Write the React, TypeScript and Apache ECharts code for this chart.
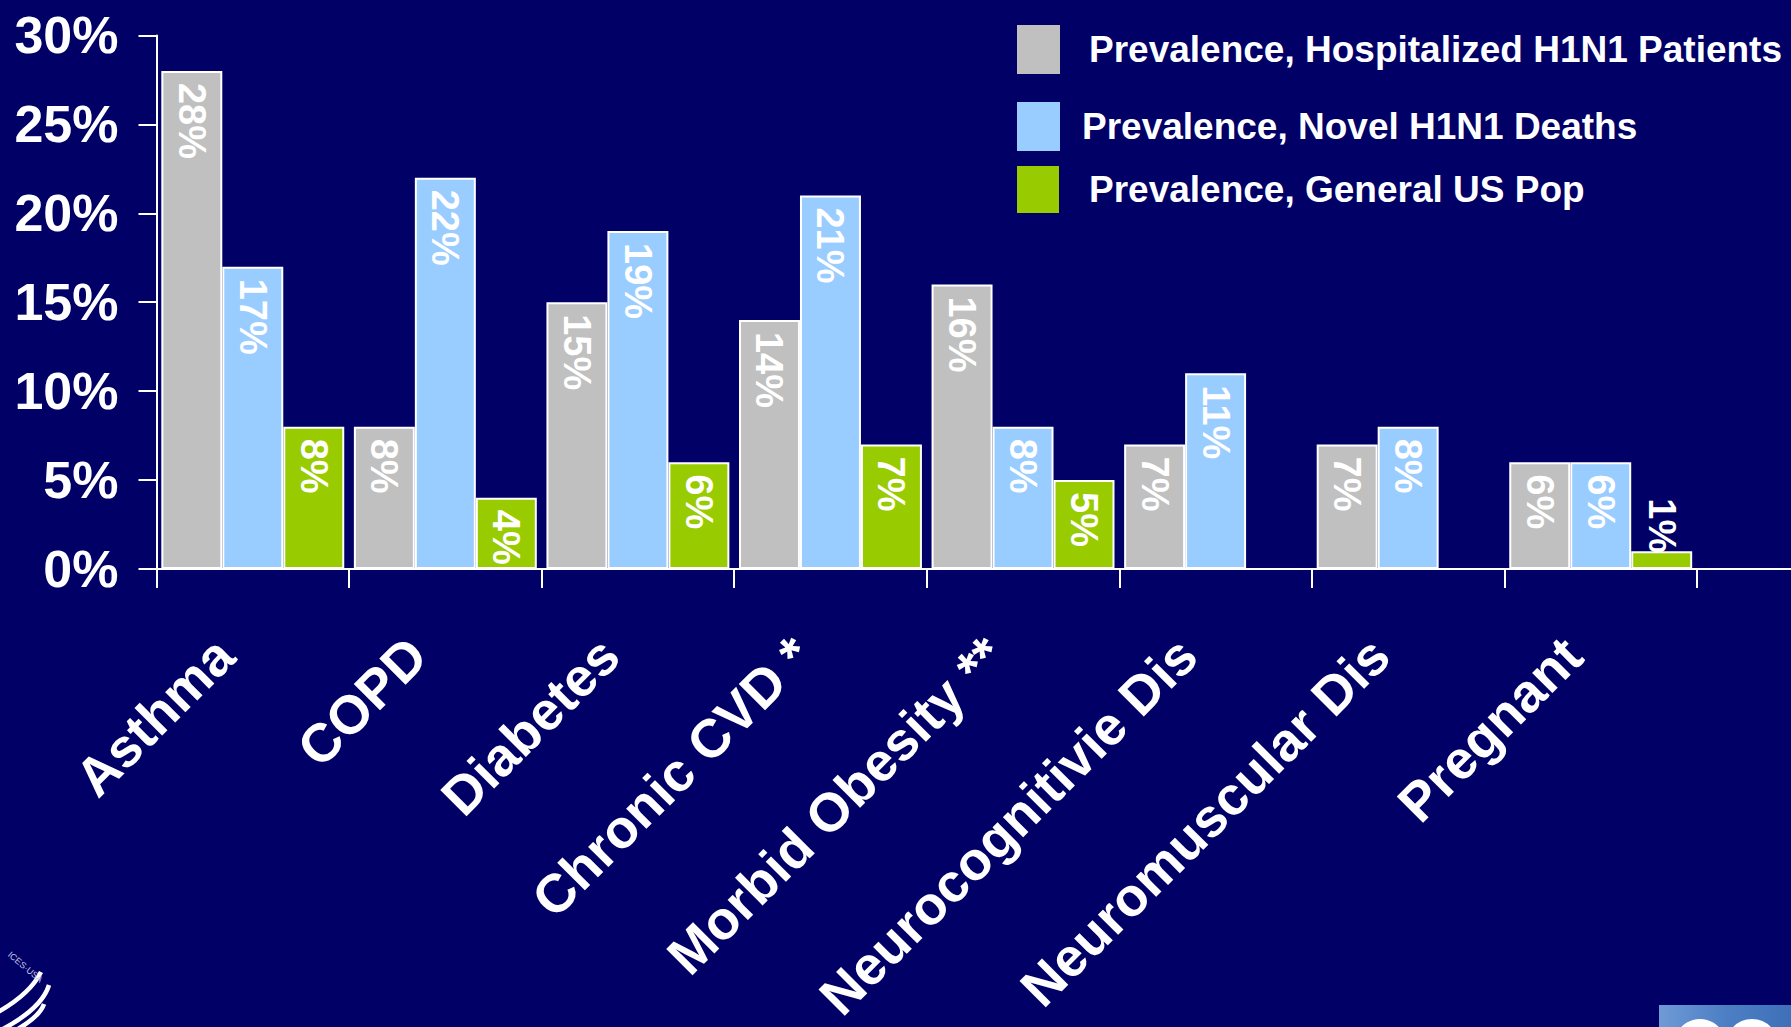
import React, { useEffect, useRef } from "react";
import * as echarts from "echarts";

// Underlying conditions among pandemic H1N1 cases vs. the general US population
const categories = [
  "Asthma",
  "COPD",
  "Diabetes",
  "Chronic CVD *",
  "Morbid Obesity **",
  "Neurocognitivie Dis",
  "Neuromuscular Dis",
  "Pregnant",
];
const seriesNames = [
  "Prevalence, Hospitalized H1N1 Patients",
  "Prevalence, Novel H1N1 Deaths",
  "Prevalence, General US Pop",
];
const hospitalized = [28, 8, 15, 14, 16, 7, 7, 6];
const deaths = [17, 22, 19, 21, 8, 11, 8, 6];
const generalPop: (number | null)[] = [8, 4, 6, 7, 5, null, null, 1];

const yMin = 0;
const yMax = 30;
const yStep = 5;

const seriesColors = ["#C0C0C0", "#99CCFF", "#99CC00"];
const BG = "#000066";
const FONT = "'Liberation Sans', Arial, Helvetica, sans-serif";

// Short bars get their value printed above the bar instead of inside it
const SHORT_BAR = 3;

function toBarData(values: (number | null)[]) {
  return values.map((v) => {
    if (v == null) return null;
    if (v < SHORT_BAR) {
      return {
        value: v,
        label: { position: "top", align: "right", distance: -2 },
      };
    }
    return v;
  });
}

function makeSeries(name: string, values: (number | null)[], color: string) {
  return {
    name,
    type: "bar",
    data: toBarData(values),
    barGap: "0%",
    barCategoryGap: "5%",
    itemStyle: { color, borderColor: "#FFFFFF", borderWidth: 2 },
    emphasis: { disabled: true },
    label: {
      show: true,
      position: "insideTop",
      distance: 12,
      rotate: -90,
      align: "left",
      verticalAlign: "middle",
      formatter: "{c}%",
      color: "#FFFFFF",
      fontSize: 38,
      fontWeight: "bold",
      fontFamily: FONT,
    },
  };
}

function makeLegend(name: string, top: number, padLeft: number, height: number, width: number) {
  return {
    data: [name],
    left: 1017,
    top,
    padding: 0,
    orient: "vertical",
    icon: "rect",
    itemWidth: width,
    itemHeight: height,
    selectedMode: false,
    itemStyle: { borderWidth: 0 },
    textStyle: {
      color: "#FFFFFF",
      fontSize: 37,
      fontWeight: "bold",
      fontFamily: FONT,
      padding: [0, 0, 0, padLeft],
    },
  };
}

export default function App() {
  const ref = useRef<HTMLDivElement>(null);

  useEffect(() => {
    document.body.style.margin = "0";
    document.body.style.background = BG;
    if (!ref.current) return;
    const chart = echarts.init(ref.current, null, { renderer: "svg" });

    const option = {
      animation: false,
      backgroundColor: BG,
      textStyle: { fontFamily: FONT },
      grid: {
        left: 156.5,
        right: 94,
        top: 35.4,
        bottom: 458,
        containLabel: false,
        outerBoundsMode: "none",
      },
      legend: [
        makeLegend(seriesNames[0], 25, 24, 49, 43),
        makeLegend(seriesNames[1], 102, 17, 49, 43),
        makeLegend(seriesNames[2], 166, 25, 47, 42),
      ],
      xAxis: {
        type: "category",
        data: categories,
        axisLine: { lineStyle: { color: "#FFFFFF", width: 2 } },
        axisTick: { show: true, length: 19, lineStyle: { color: "#FFFFFF", width: 2 } },
        axisLabel: {
          interval: 0,
          rotate: 45,
          margin: 49,
          color: "#FFFFFF",
          fontSize: 54,
          fontWeight: "bold",
          fontFamily: FONT,
          padding: [0, 40, 0, 0],
        },
        splitLine: { show: false },
      },
      yAxis: {
        type: "value",
        min: yMin,
        max: yMax,
        interval: yStep,
        axisLine: { show: true, lineStyle: { color: "#FFFFFF", width: 2 } },
        axisTick: { show: true, length: 18, lineStyle: { color: "#FFFFFF", width: 2 } },
        axisLabel: {
          formatter: "{value}%",
          margin: 38,
          color: "#FFFFFF",
          fontSize: 52,
          fontWeight: "bold",
          fontFamily: FONT,
        },
        splitLine: { show: false },
      },
      series: [
        makeSeries(seriesNames[0], hospitalized, seriesColors[0]),
        makeSeries(seriesNames[1], deaths, seriesColors[1]),
        makeSeries(seriesNames[2], generalPop, seriesColors[2]),
      ],
      graphic: [
        // baseline continues past the last category to the slide edge
        {
          type: "line",
          shape: { x1: 1696, y1: 569, x2: 1791, y2: 569 },
          style: { stroke: "#FFFFFF", lineWidth: 2 },
          silent: true,
        },
        // department emblem peeking in at the lower left
        {
          type: "group",
          silent: true,
          children: [
            {
              type: "bezierCurve",
              shape: { x1: -2, y1: 1012, cpx1: 30, cpy1: 994, x2: 41, y2: 972 },
              style: { stroke: "#FFFFFF", lineWidth: 4.5, fill: null },
            },
            {
              type: "bezierCurve",
              shape: { x1: 3, y1: 1029, cpx1: 42, cpy1: 1008, x2: 49, y2: 985 },
              style: { stroke: "#FFFFFF", lineWidth: 4.5, fill: null },
            },
            {
              type: "bezierCurve",
              shape: { x1: 18, y1: 1029, cpx1: 40, cpy1: 1016, x2: 44, y2: 1004 },
              style: { stroke: "#FFFFFF", lineWidth: 4.5, fill: null },
            },
            {
              type: "text",
              x: 12,
              y: 950,
              rotation: -0.7,
              style: { text: "ICES·USA", fill: "#C8C8E8", fontSize: 9, fontFamily: FONT },
            },
          ],
        },
        // agency logo peeking in at the lower right
        {
          type: "group",
          silent: true,
          children: [
            {
              type: "rect",
              shape: { x: 1659, y: 1005, width: 132, height: 22 },
              style: {
                fill: new echarts.graphic.LinearGradient(0, 0, 1, 0, [
                  { offset: 0, color: "#6F9AD6" },
                  { offset: 0.5, color: "#4D7FC4" },
                  { offset: 1, color: "#3D70B8" },
                ]),
              },
            },
            {
              type: "arc",
              shape: { cx: 1700, cy: 1045, r: 22, startAngle: Math.PI * 1.15, endAngle: Math.PI * 1.85 },
              style: { stroke: "#FFFFFF", lineWidth: 8, fill: null },
            },
            {
              type: "arc",
              shape: { cx: 1752, cy: 1045, r: 22, startAngle: Math.PI * 1.2, endAngle: Math.PI * 1.8 },
              style: { stroke: "#FFFFFF", lineWidth: 8, fill: null },
            },
          ],
        },
      ],
    };

    chart.setOption(option as any);
    return () => chart.dispose();
  }, []);

  return <div ref={ref} style={{ width: 1791, height: 1027, background: BG }} />;
}
